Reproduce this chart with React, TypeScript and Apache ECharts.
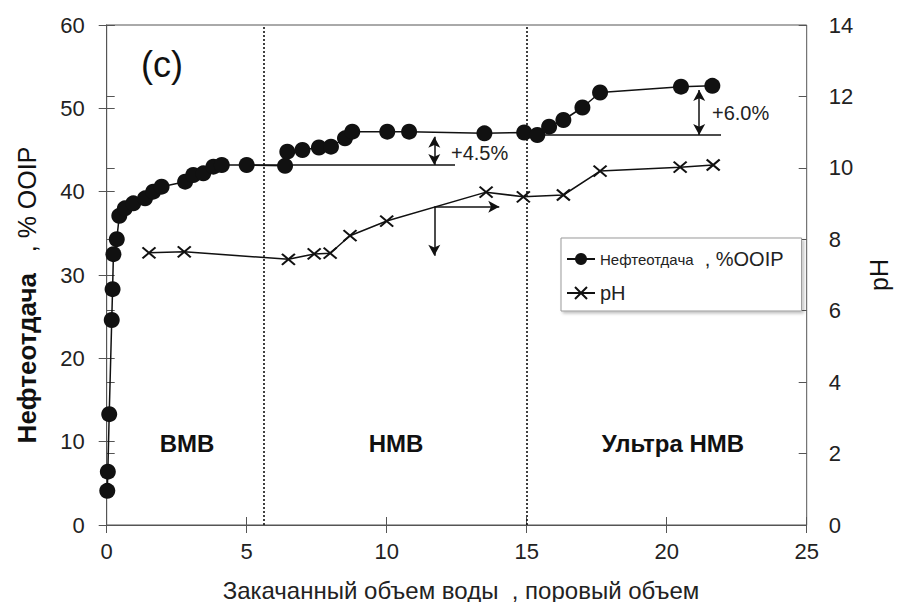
import React, { useEffect, useRef } from "react";
import * as echarts from "echarts";

// Oil recovery (%OOIP) vs injected pore volumes
const recoveryX = [0.02, 0.04, 0.09, 0.18, 0.21, 0.24, 0.36, 0.45, 0.65, 0.95, 1.37, 1.66, 1.96, 2.8, 3.09, 3.45, 3.81, 4.11, 5.0, 6.37, 6.45, 6.99, 7.58, 8.01, 8.51, 8.77, 10.02, 10.8, 13.49, 14.91, 15.38, 15.8, 16.31, 16.99, 17.62, 20.51, 21.63];
const recoveryY = [4.1, 6.4, 13.3, 24.6, 28.3, 32.5, 34.3, 37.1, 38.0, 38.6, 39.2, 40.0, 40.6, 41.2, 42.0, 42.2, 43.0, 43.2, 43.2, 43.1, 44.8, 45.0, 45.3, 45.4, 46.4, 47.2, 47.2, 47.2, 47.0, 47.1, 46.8, 47.8, 48.6, 50.1, 51.9, 52.6, 52.7];

// pH vs injected pore volumes
const phX = [1.51, 2.77, 6.49, 7.41, 7.98, 8.69, 10.0, 13.55, 14.88, 16.31, 17.62, 20.48, 21.66];
const phY = [7.62, 7.65, 7.44, 7.59, 7.61, 8.1, 8.51, 9.32, 9.19, 9.24, 9.91, 10.02, 10.08];

// Stage boundaries (pore volumes)
const stageBounds = [5.6, 15.0];
const stageLabels = ["ВМВ", "НМВ", "Ультра НМВ"];

// Annotation values
const baseline1 = { y: 43.2, from: 5.0, to: 12.44 };
const baseline2 = { y: 46.8, from: 14.9, to: 21.94 };
const gain1 = { x: 11.7, from: 46.6, to: 43.2, text: "+4.5%" };
const gain2 = { x: 21.16, from: 52.2, to: 46.8, text: "+6.0%" };
const phArrow = { x: 11.7, y: 8.91, toX: 14.02, toY: 7.54 };

const xTicks = { min: 0, max: 25, interval: 5 };
const leftTicks = { min: 0, max: 60, interval: 10 };
const rightTicks = { min: 0, max: 14, interval: 2 };

const FONT = "'Liberation Sans', Arial, sans-serif";
const INK = "#111";
const AXIS = "#555";

export default function App() {
  const ref = useRef<HTMLDivElement>(null);
  useEffect(() => {
    if (!ref.current) return;
    const chart = echarts.init(ref.current, null, { renderer: "svg" });
    const lineStyle = { color: INK, width: 1.5, type: "solid" as const };
    const arrowEnds = (a: any, b: any) => [
      { coord: a, symbol: "arrow", symbolSize: [9, 11] },
      { coord: b, symbol: "arrow", symbolSize: [9, 11] },
    ];
    const mainAxisCommon = {
      type: "value",
      axisLine: { show: true, lineStyle: { color: AXIS, width: 1 } },
      axisTick: { show: true, length: 8, lineStyle: { color: AXIS, width: 1 } },
      splitLine: { show: false },
      axisLabel: { fontSize: 22, color: "#222", fontFamily: FONT },
    };
    const overlayCommon = {
      type: "value",
      axisLine: { show: false },
      axisTick: { show: true, inside: true, length: 8, lineStyle: { color: AXIS, width: 1 } },
      splitLine: { show: false },
      axisLabel: { show: false },
    };
    const option: any = {
      animation: false,
      textStyle: { fontFamily: FONT },
      grid: {
        left: 106.7,
        right: 91.3,
        top: 25,
        bottom: 77,
        show: true,
        borderColor: AXIS,
        borderWidth: 1,
        containLabel: false,
      },
      legend: {
        orient: "vertical",
        left: 561,
        top: 238,
        padding: [11, 18, 8, 5],
        itemGap: 14,
        itemWidth: 28,
        itemHeight: 15,
        backgroundColor: "#fff",
        borderColor: "#999",
        borderWidth: 1,
        shadowColor: "rgba(0,0,0,0.25)",
        shadowBlur: 3,
        shadowOffsetX: 2,
        shadowOffsetY: 2,
        data: ["Нефтеотдача , %OOIP", "pH"],
        formatter: (name: string) =>
          name === "pH" ? "{b|pH}" : "{a|Нефтеотдача}{b|  , %OOIP}",
        textStyle: {
          color: "#222",
          rich: {
            a: { fontSize: 15, fontFamily: FONT, color: "#222" },
            b: { fontSize: 20, fontFamily: FONT, color: "#222" },
          },
        },
      },
      xAxis: [
        { ...mainAxisCommon, ...xTicks, position: "bottom", axisLabel: { ...mainAxisCommon.axisLabel, margin: 15 } },
        { ...overlayCommon, ...xTicks, position: "bottom" },
      ],
      yAxis: [
        { ...mainAxisCommon, ...leftTicks, position: "left", axisLabel: { ...mainAxisCommon.axisLabel, margin: 22 } },
        { ...mainAxisCommon, ...rightTicks, position: "right", axisLabel: { ...mainAxisCommon.axisLabel, margin: 22 } },
        { ...overlayCommon, ...leftTicks, position: "left" },
        { ...overlayCommon, ...rightTicks, position: "right" },
      ],
      series: [
        {
          name: "Нефтеотдача , %OOIP",
          type: "line",
          xAxisIndex: 0,
          yAxisIndex: 0,
          data: recoveryX.map((x, i) => [x, recoveryY[i]]),
          symbol: "circle",
          symbolSize: 16,
          itemStyle: { color: INK },
          lineStyle: { color: INK, width: 1.5 },
          z: 3,
          markLine: {
            silent: true,
            symbol: ["none", "none"],
            label: { show: false },
            emphasis: { disabled: true },
            lineStyle,
            z: 2,
            data: [
              ...stageBounds.map((b) => ({
                xAxis: b,
                lineStyle: { color: INK, width: 1.6, type: [2, 2] },
              })),
              [
                { coord: [baseline1.from, baseline1.y] },
                { coord: [baseline1.to, baseline1.y] },
              ],
              [
                { coord: [baseline2.from, baseline2.y] },
                { coord: [baseline2.to, baseline2.y] },
              ],
              arrowEnds([gain1.x, gain1.from], [gain1.x, gain1.to]),
              arrowEnds([gain2.x, gain2.from], [gain2.x, gain2.to]),
            ],
          },
        },
        {
          name: "pH",
          type: "line",
          xAxisIndex: 0,
          yAxisIndex: 1,
          data: phX.map((x, i) => [x, phY[i]]),
          symbol: "path://M0,0 L12,10 M12,0 L0,10",
          symbolSize: [13, 11],
          itemStyle: { color: INK, borderColor: INK, borderWidth: 2 },
          lineStyle: { color: INK, width: 1.5 },
          z: 3,
          markLine: {
            silent: true,
            symbol: ["none", "arrow"],
            symbolSize: [9, 11],
            label: { show: false },
            emphasis: { disabled: true },
            lineStyle,
            data: [
              [
                { coord: [phArrow.x, phArrow.y] },
                { coord: [phArrow.toX, phArrow.y] },
              ],
              [
                { coord: [phArrow.x, phArrow.y] },
                { coord: [phArrow.x, phArrow.toY] },
              ],
            ],
          },
        },
      ],
      graphic: [
        { type: "text", x: 141, y: 64, style: { text: "(c)", font: `36px ${FONT}`, fill: "#111", verticalAlign: "middle" } },
        { type: "text", x: 451, y: 153, style: { text: gain1.text, font: `20px ${FONT}`, fill: "#222", verticalAlign: "middle" } },
        { type: "text", x: 712, y: 113, style: { text: gain2.text, font: `20px ${FONT}`, fill: "#222", verticalAlign: "middle" } },
        { type: "text", x: 187, y: 443, style: { text: stageLabels[0], font: `bold 24px ${FONT}`, fill: "#111", align: "center", verticalAlign: "middle" } },
        { type: "text", x: 396, y: 443, style: { text: stageLabels[1], font: `bold 24px ${FONT}`, fill: "#111", align: "center", verticalAlign: "middle" } },
        { type: "text", x: 673, y: 443, style: { text: stageLabels[2], font: `bold 24px ${FONT}`, fill: "#111", align: "center", verticalAlign: "middle" } },
        {
          type: "text",
          x: 27,
          y: 295,
          rotation: Math.PI / 2,
          style: {
            text: "{a|Нефтеотдача}{b|   , % OOIP}",
            align: "center",
            verticalAlign: "middle",
            rich: {
              a: { font: `bold 26px ${FONT}`, fill: "#111" },
              b: { font: `25px ${FONT}`, fill: "#111" },
            },
          },
        },
        {
          type: "text",
          x: 879,
          y: 275,
          rotation: Math.PI / 2,
          style: { text: "pH", font: `25px ${FONT}`, fill: "#111", align: "center", verticalAlign: "middle" },
        },
        {
          type: "text",
          x: 461,
          y: 590,
          style: {
            text: "Закачанный объем воды  , поровый объем",
            font: `24px ${FONT}`,
            fill: "#222",
            align: "center",
            verticalAlign: "middle",
          },
        },
      ],
    };
    chart.setOption(option);
    return () => chart.dispose();
  }, []);
  return (
    <div
      ref={ref}
      style={{ position: "absolute", left: 0, top: 0, width: 898, height: 602, background: "#fff" }}
    />
  );
}
